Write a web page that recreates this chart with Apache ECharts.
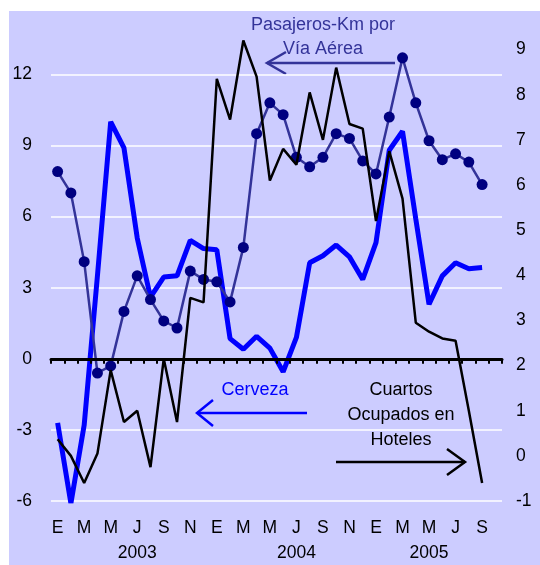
<!DOCTYPE html>
<html>
<head>
<meta charset="utf-8">
<script src="https://cdn.jsdelivr.net/npm/echarts@6/dist/echarts.min.js"></script>
<style>
  html, body { margin: 0; padding: 0; background: #fff; }
  #chart {
    width: 540px; height: 565px;
    background: linear-gradient(#ccccff, #ccccff) 9px 11px / 531px 554px no-repeat, #fff;
  }
</style>
</head>
<body>
<div id="chart"></div>
<script>
// meses ene-2003 .. oct-2005 (el último queda vacío)
const months = ["E","F","M","A","M","J","J","A","S","O","N","D",
                "E","F","M","A","M","J","J","A","S","O","N","D",
                "E","F","M","A","M","J","J","A","S","O"];
const years = months.map((m, i) => (i === 6 ? "2003" : i === 18 ? "2004" : i === 28 ? "2005" : ""));

const leftTicks = [-6, -3, 0, 3, 6, 9, 12];
const rightTicks = [-1, 0, 1, 2, 3, 4, 5, 6, 7, 8, 9];

// eje izquierdo
const pasajeros = [7.9, 7.0, 4.1, -0.6, -0.3, 2.0, 3.5, 2.5, 1.6, 1.3, 3.7,
                   3.35, 3.25, 2.4, 4.7, 9.5, 10.8, 10.3, 8.5, 8.1, 8.5, 9.5, 9.3, 8.35,
                   7.8, 10.2, 12.7, 10.8, 9.2, 8.4, 8.65, 8.3, 7.35];
const cerveza = [-2.7, -6.1, -2.8, 3.5, 10.0, 8.9, 5.1, 2.6, 3.45, 3.5, 5.0,
                 4.65, 4.6, 0.85, 0.4, 0.95, 0.45, -0.55, 0.9, 4.05, 4.35, 4.8, 4.3, 3.35,
                 4.9, 8.8, 9.6, 5.9, 2.3, 3.5, 4.05, 3.8, 3.85];
// eje derecho
const hoteles = [0.37, 0.0, -0.6, 0.05, 1.9, 0.75, 1.0, -0.25, 2.15, 0.75, 3.5,
                 3.4, 8.35, 7.45, 9.2, 8.4, 6.1, 6.8, 6.45, 8.05, 7.0, 8.6, 7.35, 7.25,
                 5.2, 6.75, 5.7, 2.95, 2.75, 2.6, 2.55, 1.0, -0.6];

const font = "Liberation Sans, Arial, sans-serif";
const myChart = echarts.init(document.getElementById("chart"));

const option = {
  animation: false,
  textStyle: { fontFamily: font },
  grid: { left: 51, right: 38, top: 27, bottom: 64, containLabel: false },
  xAxis: [
    {
      type: "category",
      data: months,
      boundaryGap: true,
      axisLine: { onZero: true, lineStyle: { color: "#000", width: 3 } },
      axisTick: { show: true, interval: 0, length: 5, lineStyle: { color: "#000", width: 2 } },
      axisLabel: { show: false },
      splitLine: { show: false },
      z: 5
    },
    {
      type: "category",
      data: months,
      position: "bottom",
      axisLine: { show: false, onZero: false },
      axisTick: { show: false },
      axisLabel: { interval: 1, margin: 18, fontSize: 17.5, color: "#000", fontFamily: font }
    },
    {
      type: "category",
      data: years,
      position: "bottom",
      axisLine: { show: false, onZero: false },
      axisTick: { show: false },
      axisLabel: { interval: 0, margin: 43, fontSize: 17.5, color: "#000", fontFamily: font }
    }
  ],
  yAxis: [
    {
      type: "value",
      min: -6,
      max: 14,
      interval: 3,
      position: "left",
      axisLine: { show: false },
      axisTick: { show: false },
      axisLabel: {
        margin: 19, fontSize: 17.5, color: "#000", fontFamily: font,
        showMaxLabel: false,
        formatter: v => (leftTicks.includes(v) ? String(v) : "")
      },
      splitLine: { show: true, showMaxLine: false, lineStyle: { color: "#fff", width: 1.5 } }
    },
    {
      type: "value",
      min: -1,
      max: 9.5,
      interval: 1,
      position: "right",
      axisLine: { show: false },
      axisTick: { show: false },
      axisLabel: {
        margin: 14, fontSize: 17.5, color: "#000", fontFamily: font,
        showMaxLabel: false,
        formatter: v => (rightTicks.includes(v) ? String(v) : "")
      },
      splitLine: { show: false }
    }
  ],
  series: [
    {
      name: "Cerveza",
      type: "line",
      data: cerveza,
      yAxisIndex: 0,
      symbol: "none",
      lineStyle: { color: "#0000ff", width: 5 },
      z: 2
    },
    {
      name: "Pasajeros-Km por Vía Aérea",
      type: "line",
      data: pasajeros,
      yAxisIndex: 0,
      symbol: "circle",
      symbolSize: 11,
      showSymbol: true,
      showAllSymbol: true,
      itemStyle: { color: "#000080" },
      lineStyle: { color: "#333399", width: 2.5 },
      z: 3
    },
    {
      name: "Cuartos Ocupados en Hoteles",
      type: "line",
      data: hoteles,
      yAxisIndex: 1,
      symbol: "none",
      lineStyle: { color: "#000", width: 2.5 },
      z: 4
    }
  ],
  graphic: [
    {
      type: "text", x: 323, y: 37,
      style: { text: "Pasajeros-Km por\nVía Aérea", fill: "#333399", font: "18px " + font,
               textAlign: "center", textVerticalAlign: "middle", lineHeight: 24 }
    },
    { type: "line", shape: { x1: 395, y1: 63, x2: 267, y2: 63 }, style: { stroke: "#333399", lineWidth: 2.5 } },
    { type: "polyline", shape: { points: [[286, 52], [267, 63], [286, 74]] }, style: { stroke: "#333399", lineWidth: 2.5, fill: null } },

    {
      type: "text", x: 255, y: 390,
      style: { text: "Cerveza", fill: "#0000ff", font: "18px " + font,
               textAlign: "center", textVerticalAlign: "middle" }
    },
    { type: "line", shape: { x1: 307, y1: 413, x2: 197, y2: 413 }, style: { stroke: "#0000ff", lineWidth: 2.5 } },
    { type: "polyline", shape: { points: [[213, 400], [197, 413], [213, 426]] }, style: { stroke: "#0000ff", lineWidth: 2.5, fill: null } },

    {
      type: "text", x: 401, y: 415,
      style: { text: "Cuartos\nOcupados en\nHoteles", fill: "#000", font: "18px " + font,
               textAlign: "center", textVerticalAlign: "middle", lineHeight: 24.7 }
    },
    { type: "line", shape: { x1: 336, y1: 462, x2: 465, y2: 462 }, style: { stroke: "#000", lineWidth: 2.5 } },
    { type: "polyline", shape: { points: [[447, 449], [465, 462], [447, 475]] }, style: { stroke: "#000", lineWidth: 2.5, fill: null } }
  ]
};

myChart.setOption(option);
</script>
</body>
</html>
